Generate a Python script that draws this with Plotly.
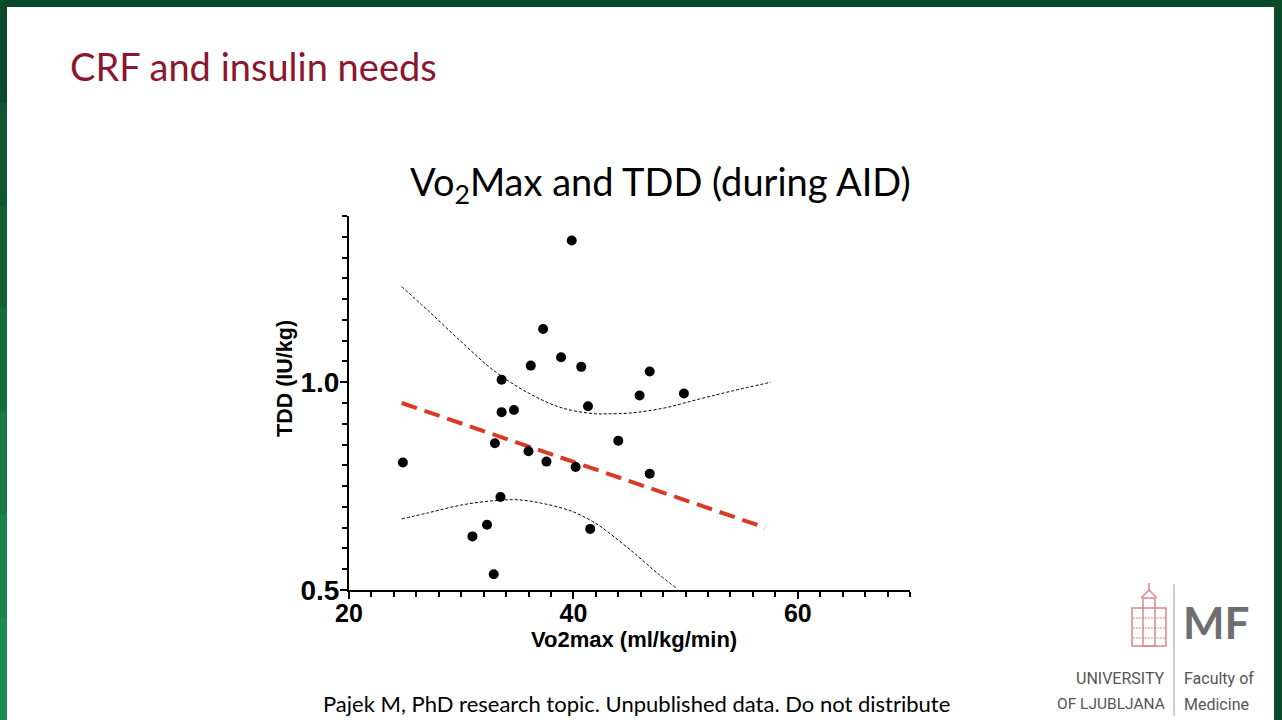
import plotly.graph_objects as go

# values
vo2max = [24.8, 31.0, 32.3, 32.9, 33.0, 33.5, 33.6, 33.6, 34.7, 36.0, 36.2, 37.3,
          37.6, 38.9, 39.85, 40.2, 40.7, 41.3, 41.5, 44.0, 45.9, 46.8, 46.8, 49.85]
tdd = [0.807, 0.629, 0.657, 0.538, 0.853, 0.724, 0.928, 1.006, 0.933, 0.834, 1.040, 1.128,
       0.809, 1.060, 1.341, 0.796, 1.037, 0.942, 0.647, 0.859, 0.968, 1.026, 0.780, 0.973]

fit_x = [24.7, 57.1]
fit_y = [0.950, 0.650]

ci_up_x = [24.7, 27.1, 30.1, 33.0, 36.0, 39.0, 42.0, 43.0, 45.1, 48.1, 51.0, 54.0, 57.6]
ci_up_y = [1.230, 1.171, 1.095, 1.026, 0.974, 0.938, 0.924, 0.924, 0.926, 0.938, 0.958, 0.978, 1.000]

ci_lo_x = [24.7, 27.1, 30.1, 33.0, 35.1, 37.5, 39.9, 41.7, 42.4, 45.1, 47.5, 49.3]
ci_lo_y = [0.671, 0.686, 0.705, 0.715, 0.717, 0.707, 0.689, 0.665, 0.653, 0.596, 0.540, 0.502]

x_ticks = [20, 40, 60]
y_ticks = [0.5, 1.0]
y_tick_text = ["0.5", "1.0"]

# plot area in pixels (figure is 1282 x 720)
L, T, W, H = 349, 216, 561, 374


def px(x):
    return (x - L) / W


def py(y):
    return 1 - (y - T) / H


AX_FONT = "Liberation Sans"
SLIDE_FONT = "Lato"

fig = go.Figure()

fig.add_trace(go.Scatter(
    x=ci_up_x, y=ci_up_y, mode="lines", line_shape="spline",
    line=dict(color="black", width=1, dash="3px,2px"), hoverinfo="skip"))
fig.add_trace(go.Scatter(
    x=ci_lo_x, y=ci_lo_y, mode="lines", line_shape="spline",
    line=dict(color="black", width=1, dash="3px,2px"), hoverinfo="skip"))
fig.add_trace(go.Scatter(
    x=fit_x, y=fit_y, mode="lines",
    line=dict(color="#d93a26", width=4, dash="16px,8px")))
fig.add_trace(go.Scatter(
    x=vo2max, y=tdd, mode="markers",
    marker=dict(color="black", size=10)))


def rect(x0, y0, x1, y1, color):
    return dict(type="rect", xref="paper", yref="paper",
                x0=px(x0), x1=px(x1), y0=py(y0), y1=py(y1),
                fillcolor=color, line=dict(width=0))


def box(x0, y0, x1, y1, color, width=1.5):
    return dict(type="rect", xref="paper", yref="paper",
                x0=px(x0), x1=px(x1), y0=py(y0), y1=py(y1),
                line=dict(color=color, width=width))


def seg(x0, y0, x1, y1, color, width=1.5, dash="solid"):
    return dict(type="line", xref="paper", yref="paper",
                x0=px(x0), x1=px(x1), y0=py(y0), y1=py(y1),
                line=dict(color=color, width=width, dash=dash))


# slide frame
shapes = [rect(0, 0, 1282, 7, "#0a4a2a"), rect(1274, 0, 1282, 720, "#0a4a2a")]
left_cols = ["#0b4a2b", "#0e562f", "#116234", "#146e3b", "#177a43", "#1a844a", "#1d8c52"]
step = 720 / len(left_cols)
for i, c in enumerate(left_cols):
    shapes.append(rect(0, i * step, 7, (i + 1) * step + 1, c))

# logo: divider and a simple building outline
logo_col = "#d9868a"
shapes.append(seg(1174, 584, 1174, 716, "#9a9a9a", 1))
shapes.append(box(1132, 608, 1166, 646, logo_col))
shapes.append(box(1143, 598, 1155, 646, logo_col))
shapes.append(seg(1141, 598, 1149, 590, logo_col))
shapes.append(seg(1149, 590, 1157, 598, logo_col))
shapes.append(seg(1149, 583, 1149, 590, logo_col))
for yy in [618, 628, 638]:
    shapes.append(seg(1133, yy, 1165, yy, logo_col, 1, "2px,1px"))


def note(text, x, y, size, color="black", family=SLIDE_FONT, anchor="center", angle=0):
    return dict(text=text, xref="paper", yref="paper", x=px(x), y=py(y),
                xanchor=anchor, yanchor="middle", showarrow=False, textangle=angle,
                font=dict(family=family, size=size, color=color))


annotations = [
    note("CRF and insulin needs", 68, 66, 38, "#8a1730", anchor="left"),
    note("Vo<sub>2</sub>Max and TDD (during AID)", 660, 184, 38),
    note("<b>Vo2max (ml/kg/min)</b>", 634, 639, 22, family=AX_FONT),
    note("<b>TDD (IU/kg)</b>", 285, 379, 21.5, family=AX_FONT, angle=-90),
    note("Pajek M, PhD research topic. Unpublished data. Do not distribute", 636, 703, 22),
    note("<b>MF</b>", 1181, 622, 44, "#6f6f6f", anchor="left"),
    note("UNIVERSITY", 1167, 678, 16, "#555555", "Roboto", "right"),
    note("OF LJUBLJANA", 1167, 704, 15.5, "#555555", "Roboto", "right"),
    note("Faculty of", 1182, 678, 16, "#555555", "Roboto", "left"),
    note("Medicine", 1182, 704, 16, "#555555", "Roboto", "left"),
]

fig.update_layout(
    width=1282, height=720,
    margin=dict(l=L, r=1282 - L - W, t=T, b=720 - T - H),
    paper_bgcolor="white", plot_bgcolor="white",
    showlegend=False,
    shapes=shapes,
    annotations=annotations,
)

fig.update_xaxes(
    range=[20, 70], showgrid=False, zeroline=False,
    showline=True, linecolor="black", linewidth=2,
    tickmode="array", tickvals=x_ticks, ticks="outside", ticklen=7, tickwidth=2,
    tickcolor="black", ticklabelstandoff=-7,
    tickfont=dict(family=AX_FONT, size=25, color="black", weight="bold"),
    minor=dict(dtick=2, tick0=20, ticks="outside", ticklen=5, tickwidth=1.5, tickcolor="black"),
)
fig.update_yaxes(
    range=[0.5, 1.4], showgrid=False, zeroline=False,
    showline=True, linecolor="black", linewidth=2,
    tickmode="array", tickvals=y_ticks, ticktext=y_tick_text,
    ticks="outside", ticklen=7, tickwidth=2, tickcolor="black", ticklabelstandoff=-5,
    tickfont=dict(family=AX_FONT, size=28, color="black", weight="bold"),
    minor=dict(dtick=0.05, tick0=0.5, ticks="outside", ticklen=5, tickwidth=1.5, tickcolor="black"),
)

fig.write_html("out.html", config={"displayModeBar": False},
               post_script="document.body.style.margin = '0';")
